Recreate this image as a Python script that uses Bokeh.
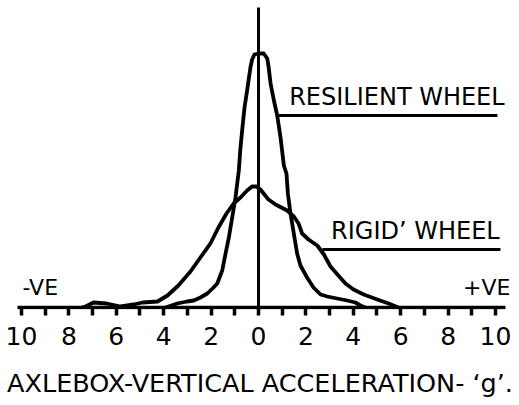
from bokeh.plotting import figure
from bokeh.models import Range1d, FixedTicker, Label
from bokeh.embed import file_html
from bokeh.resources import INLINE

# Axlebox vertical acceleration (g) and relative frequency (arbitrary units)
resilient_x = [-3.92, -3.43, -3.01, -2.73, -2.45, -2.16, -1.94, -1.74, -1.53, -1.39,
               -1.25, -1.11, -0.97, -0.83, -0.77, -0.69, -0.59, -0.48, -0.34, -0.27,
               -0.17, 0.0, 0.22, 0.37, 0.43, 0.51, 0.65, 0.79, 0.93, 1.07,
               1.18, 1.24, 1.35, 1.49, 1.63, 1.77, 2.05, 2.32, 2.62, 2.90,
               3.74, 4.09, 4.30, 4.51]
resilient_y = [0, 4, 6, 7, 10, 14, 19, 24, 37, 54,
               70, 90, 110, 137, 157, 177, 200, 217, 240, 248,
               253, 254, 254, 249, 240, 224, 207, 192, 170, 142,
               134, 114, 94, 74, 54, 42, 30, 20, 13, 11,
               7, 5, 2, 0]

rigid_x = [-7.45, -7.30, -6.96, -6.41, -5.82, -5.27, -4.89, -4.26, -3.84, -3.38,
           -2.87, -2.45, -2.03, -1.69, -1.35, -1.05, -0.76, -0.48, -0.27, -0.08,
           0.08, 0.25, 0.42, 0.72, 1.21, 1.49, 1.69, 1.84, 2.11, 2.48,
           2.76, 3.04, 3.33, 3.67, 4.01, 4.44, 5.01, 5.49, 5.90]
rigid_y = [0, 1, 5, 4, 1, 3, 5, 6, 12, 22,
           36, 50, 64, 80, 94, 104, 110, 117, 121, 121,
           118, 113, 108, 103, 97, 91, 84, 74, 68, 62,
           53, 41, 33, 24, 18, 13, 8, 4, 0]

tick_values = list(range(-10, 11))
tick_labels = {t: (str(abs(t)) if t % 2 == 0 else "") for t in tick_values}

resilient_label = "RESILIENT WHEEL"
rigid_label = "RIGID\u2019 WHEEL"
axis_title = "AXLEBOX-VERTICAL ACCELERATION- \u2018g\u2019."

FONT = "DejaVu Sans"

p = figure(width=519, height=405, output_backend="svg", toolbar_location=None,
           x_range=Range1d(-10.886, 11.013), y_range=Range1d(-2, 307),
           min_border_left=0, min_border_right=0, min_border_top=0,
           min_border_bottom=96, background_fill_color="white",
           border_fill_color="white", outline_line_color=None)
p.yaxis.visible = False
p.grid.visible = False

ax = p.xaxis[0]
ax.ticker = FixedTicker(ticks=tick_values, minor_ticks=[])
ax.major_label_overrides = tick_labels
ax.axis_line_color = None
ax.major_tick_in = 2
ax.major_tick_out = 6
ax.major_tick_line_width = 3.5
ax.major_tick_line_color = "black"
ax.minor_tick_line_color = None
ax.major_label_standoff = 11
ax.major_label_text_font = FONT
ax.major_label_text_font_size = "25px"
ax.major_label_text_color = "black"
ax.axis_label = axis_title
ax.axis_label_text_font = FONT
ax.axis_label_text_font_size = "25.5px"
ax.axis_label_text_font_style = "normal"
ax.axis_label_text_color = "black"
ax.axis_label_standoff = 20

# horizontal axis line and zero line
p.segment(x0=[-10.17], y0=[0], x1=[10.42], y1=[0], line_color="black", line_width=3.5)
p.segment(x0=[0], y0=[0], x1=[0], y1=[300], line_color="black", line_width=3)

# curves
p.line(resilient_x, resilient_y, line_color="black", line_width=3.8, line_join="round")
p.line(rigid_x, rigid_y, line_color="black", line_width=3.8, line_join="round")

# leader lines
p.segment(x0=[0.84, 2.70], y0=[192, 58], x1=[10.08, 10.21], y1=[192, 58],
          line_color="black", line_width=3)

p.add_layout(Label(x=5.84, y=211, text=resilient_label, text_align="center",
                   text_baseline="alphabetic", text_font=FONT,
                   text_font_size="24px", text_color="black"))
p.add_layout(Label(x=6.62, y=77, text=rigid_label, text_align="center",
                   text_baseline="alphabetic", text_font=FONT,
                   text_font_size="24px", text_color="black"))
p.add_layout(Label(x=-9.96, y=20, text="-VE", text_align="left",
                   text_baseline="alphabetic", text_font=FONT,
                   text_font_size="22px", text_color="black"))
p.add_layout(Label(x=10.63, y=20, text="+VE", text_align="right",
                   text_baseline="alphabetic", text_font=FONT,
                   text_font_size="22px", text_color="black"))

open("out.html", "w").write(file_html(p, INLINE))
